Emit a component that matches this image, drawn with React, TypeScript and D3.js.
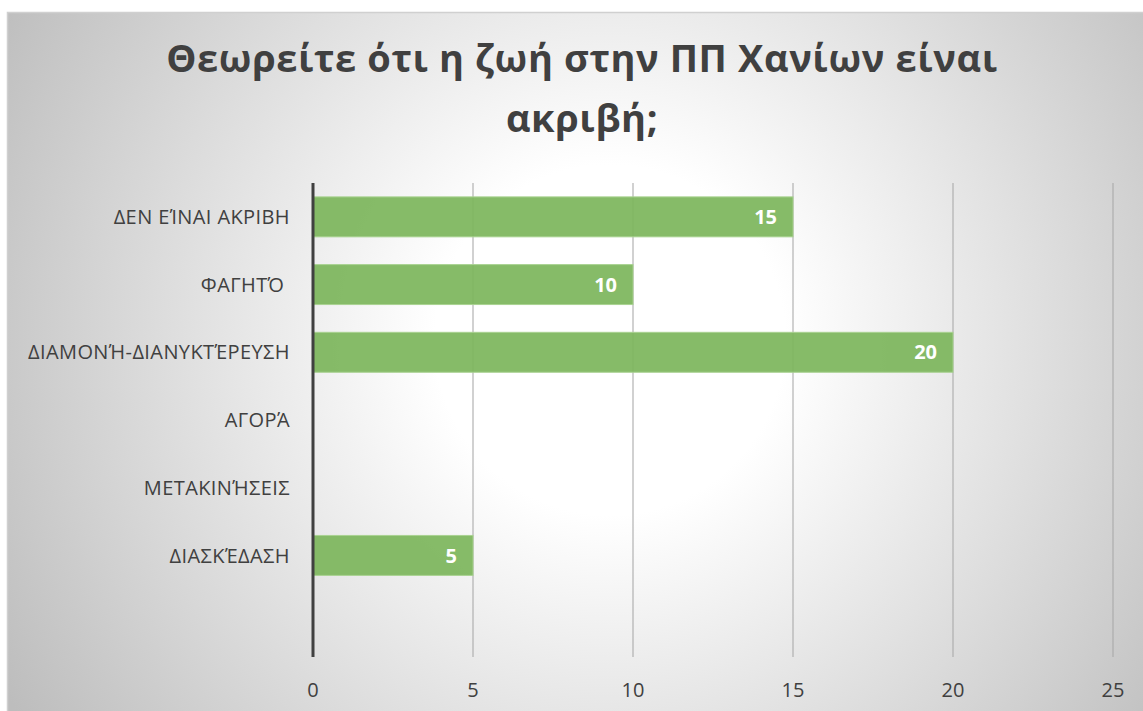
import React, { useEffect, useRef } from "react";
import * as d3 from "d3";

const categories = [
  "ΔΕΝ ΕΊΝΑΙ ΑΚΡΙΒΗ",
  "ΦΑΓΗΤΌ ",
  "ΔΙΑΜΟΝΉ-ΔΙΑΝΥΚΤΈΡΕΥΣΗ",
  "ΑΓΟΡΆ",
  "ΜΕΤΑΚΙΝΉΣΕΙΣ",
  "ΔΙΑΣΚΈΔΑΣΗ",
  "",
];
const values: (number | null)[] = [15, 10, 20, null, null, 5, null];
const xTicks = [0, 5, 10, 15, 20, 25];
const titleLines = ["Θεωρείτε ότι η ζωή στην ΠΠ Χανίων είναι", "ακριβή;"];

const W = 1143;
const H = 711;

export default function App() {
  const ref = useRef<SVGSVGElement | null>(null);

  useEffect(() => {
    const svg = d3.select(ref.current);
    svg.selectAll("*").remove();
    const font = "'Open Sans', 'Noto Sans', sans-serif";

    const defs = svg.append("defs");
    const grad = defs
      .append("radialGradient")
      .attr("id", "bg")
      .attr("gradientUnits", "userSpaceOnUse")
      .attr("cx", 610)
      .attr("cy", 340)
      .attr("r", 700);
    grad.append("stop").attr("offset", 0).attr("stop-color", "#ffffff");
    grad.append("stop").attr("offset", 0.25).attr("stop-color", "#ffffff");
    grad.append("stop").attr("offset", 1).attr("stop-color", "#bdbdbd");

    svg
      .append("rect")
      .attr("x", 7.5)
      .attr("y", 12.5)
      .attr("width", W + 20)
      .attr("height", H + 20)
      .attr("fill", "url(#bg)")
      .attr("stroke", "#d0d0d0")
      .attr("stroke-width", 1.5);

    const x = d3.scaleLinear().domain([0, 25]).range([313, 1113]);
    const y = d3
      .scaleBand<string>()
      .domain(categories.map((c, i) => String(i)))
      .range([183, 657])
      .paddingInner(0.41)
      .paddingOuter(0.205);

    // gridlines
    svg
      .append("g")
      .selectAll("line")
      .data(xTicks.filter((t) => t > 0))
      .join("line")
      .attr("x1", (d) => x(d))
      .attr("x2", (d) => x(d))
      .attr("y1", 183)
      .attr("y2", 657)
      .attr("stroke", "#a8a8a8")
      .attr("stroke-opacity", 0.7)
      .attr("stroke-width", 1.5);

    // bars
    const data = categories.map((c, i) => ({ c, i, v: values[i] }));
    svg
      .append("g")
      .selectAll("rect")
      .data(data.filter((d) => d.v != null))
      .join("rect")
      .attr("x", x(0))
      .attr("y", (d) => y(String(d.i))!)
      .attr("width", (d) => x(d.v as number) - x(0))
      .attr("height", y.bandwidth())
      .attr("fill", "#7db65d")
      .attr("fill-opacity", 0.93)
      .attr("stroke", "#a9d291")
      .attr("stroke-width", 1);

    // value labels
    svg
      .append("g")
      .selectAll("text")
      .data(data.filter((d) => d.v != null))
      .join("text")
      .attr("x", (d) => x(d.v as number) - 16)
      .attr("y", (d) => y(String(d.i))! + y.bandwidth() / 2)
      .attr("dy", "0.36em")
      .attr("text-anchor", "end")
      .attr("font-family", font)
      .attr("font-weight", "bold")
      .attr("font-size", 20)
      .attr("fill", "#ffffff")
      .text((d) => String(d.v));

    // axis line
    svg
      .append("line")
      .attr("x1", x(0))
      .attr("x2", x(0))
      .attr("y1", 183)
      .attr("y2", 657)
      .attr("stroke", "#404040")
      .attr("stroke-width", 3);

    // category labels
    svg
      .append("g")
      .selectAll("text")
      .data(data)
      .join("text")
      .attr("x", 290)
      .attr("y", (d) => y(String(d.i))! + y.bandwidth() / 2)
      .attr("dy", "0.36em")
      .attr("text-anchor", "end")
      .attr("xml:space", "preserve")
      .style("white-space", "pre")
      .attr("font-family", font)
      .attr("font-size", 20)
      .attr("letter-spacing", 0.4)
      .attr("fill", "#404040")
      .text((d) => d.c);

    // x tick labels
    svg
      .append("g")
      .selectAll("text")
      .data(xTicks)
      .join("text")
      .attr("x", (d) => x(d))
      .attr("y", 690)
      .attr("dy", "0.36em")
      .attr("text-anchor", "middle")
      .attr("font-family", font)
      .attr("font-size", 20)
      .attr("fill", "#404040")
      .text((d) => String(d));

    // title
    svg
      .append("g")
      .selectAll("text")
      .data(titleLines)
      .join("text")
      .attr("x", 582)
      .attr("y", (d, i) => 72 + i * 60)
      .attr("text-anchor", "middle")
      .attr("font-family", font)
      .attr("font-weight", "bold")
      .attr("font-size", 38)
      .attr("letter-spacing", 0.6)
      .attr("fill", "#404040")
      .text((d) => d);
  }, []);

  return (
    <svg
      ref={ref}
      width={W}
      height={H}
      style={{ position: "absolute", left: 0, top: 0, display: "block" }}
    />
  );
}
